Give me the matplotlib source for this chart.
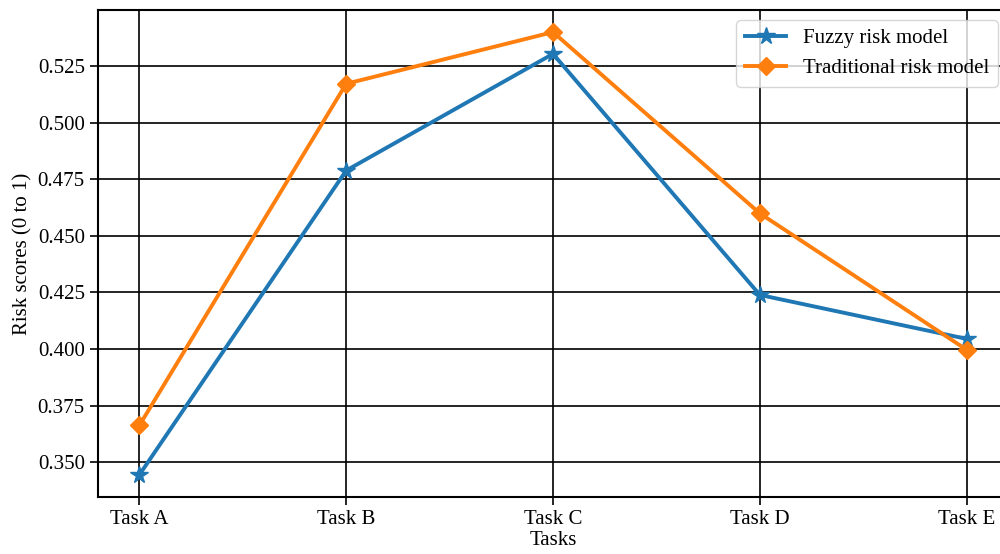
import matplotlib.pyplot as plt

# data
tasks = ["Task A", "Task B", "Task C", "Task D", "Task E"]
fuzzy_scores = [0.3445, 0.4788, 0.5303, 0.4239, 0.4045]
traditional_scores = [0.3663, 0.5171, 0.5399, 0.4599, 0.3997]

plt.rcParams["font.family"] = ["Liberation Serif", "DejaVu Serif"]

fig = plt.figure(figsize=(10, 5.54), dpi=100)
# right spine falls just outside the picture, as in the reference
ax = fig.add_axes([0.098, 0.103, 0.910, 0.879])

ax.plot(tasks, fuzzy_scores, marker="*", markersize=13, linewidth=2.8,
        color="#1f77b4", label="Fuzzy risk model")
ax.plot(tasks, traditional_scores, marker="D", markersize=9.5, linewidth=2.8,
        color="#ff7f0e", label="Traditional risk model")

ax.set_xlabel("Tasks", fontsize=15, labelpad=1)
ax.set_ylabel("Risk scores (0 to 1)", fontsize=15)
ax.tick_params(labelsize=15, width=1.2, length=6)
ax.grid(True, color="black", linewidth=1.2)
for s in ax.spines.values():
    s.set_linewidth(1.5)
ax.legend(loc="upper right", fontsize=15, framealpha=0.8)

fig.savefig("out.png", dpi=100)
